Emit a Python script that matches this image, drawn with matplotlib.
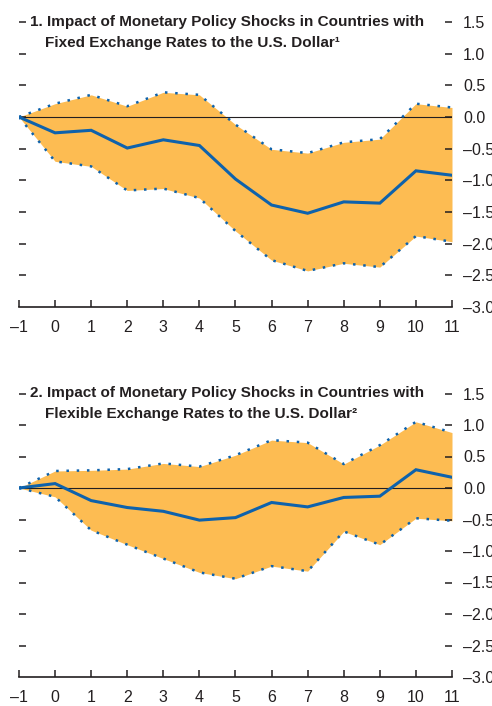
import matplotlib
matplotlib.use("Agg")
import matplotlib.pyplot as plt
import matplotlib.transforms as mtransforms
from matplotlib.ticker import FuncFormatter

plt.rcParams['font.family'] = ['Liberation Sans Narrow', 'Liberation Sans', 'DejaVu Sans']

horizon = [-1, 0, 1, 2, 3, 4, 5, 6, 7, 8, 9, 10, 11]

# Panel 1: fixed exchange rates
fixed_est = [0.0, -0.25, -0.21, -0.49, -0.36, -0.45, -0.98, -1.39, -1.52, -1.34, -1.36, -0.85, -0.92]
fixed_upper = [0.0, 0.21, 0.35, 0.17, 0.39, 0.35, -0.12, -0.51, -0.57, -0.40, -0.35, 0.21, 0.15]
fixed_lower = [0.0, -0.70, -0.78, -1.16, -1.13, -1.28, -1.80, -2.26, -2.43, -2.31, -2.37, -1.88, -1.97]

# Panel 2: flexible exchange rates
flex_est = [0.0, 0.07, -0.20, -0.31, -0.37, -0.51, -0.47, -0.23, -0.30, -0.15, -0.13, 0.29, 0.17]
flex_upper = [0.0, 0.27, 0.28, 0.30, 0.39, 0.34, 0.52, 0.76, 0.72, 0.38, 0.68, 1.05, 0.88]
flex_lower = [0.0, -0.14, -0.67, -0.90, -1.12, -1.34, -1.44, -1.24, -1.32, -0.69, -0.90, -0.48, -0.52]

titles = [
    ("1. Impact of Monetary Policy Shocks in Countries with",
     "Fixed Exchange Rates to the U.S. Dollar\u00b9"),
    ("2. Impact of Monetary Policy Shocks in Countries with",
     "Flexible Exchange Rates to the U.S. Dollar\u00b2"),
]

yticks = [-3.0, -2.5, -2.0, -1.5, -1.0, -0.5, 0.0, 0.5, 1.0, 1.5]

ORANGE = '#FDBC52'
BLUE = '#0E62AC'
INK = '#231F20'
W, H = 492, 706

fig = plt.figure(figsize=(W / 100, H / 100), dpi=100)

def fmt(v, _):
    s = f"{abs(v):.1f}"
    return ("\u2013" + s) if v < 0 else s

def xfmt(v, _):
    return ("\u2013" + str(abs(int(v)))) if v < 0 else str(int(v))

panels = [
    (fixed_est, fixed_upper, fixed_lower, 22, 307),
    (flex_est, flex_upper, flex_lower, 393.5, 677),
]

for (est, up, lo, top_px, bot_px), (t1, t2) in zip(panels, titles):
    ax = fig.add_axes([19 / W, 1 - bot_px / H, 433 / W, (bot_px - top_px) / H])
    ax.fill_between(horizon, lo, up, color=ORANGE, lw=0, zorder=1)
    ax.axhline(0, color=INK, lw=0.8, zorder=2)
    for band in (up, lo):
        ax.plot(horizon, band, color=BLUE, lw=1.8, ls=(0, (1, 3.1)), zorder=3)
    ax.plot(horizon, est, color=BLUE, lw=2.2, zorder=4, solid_joinstyle='miter')

    ax.set_xlim(-1, 11)
    ax.set_ylim(-3.0, 1.5)
    ax.set_xticks(horizon)
    ax.set_yticks(yticks)
    ax.xaxis.set_major_formatter(FuncFormatter(xfmt))
    ax.yaxis.set_major_formatter(FuncFormatter(fmt))

    for side in ('top', 'left', 'right'):
        ax.spines[side].set_visible(False)
    ax.spines['bottom'].set_color(INK)
    ax.spines['bottom'].set_linewidth(1.2)

    ax.tick_params(axis='x', direction='in', length=5, width=1.1, color=INK,
                   labelsize=11.5, labelcolor=INK, pad=9)
    ax.tick_params(axis='y', direction='in', length=5, width=1.1, color=INK,
                   left=True, right=True, labelleft=False, labelright=True,
                   labelsize=11.5, labelcolor=INK, pad=8)
    # the -3.0 tick marks sit on the x axis line
    for tk in ax.yaxis.get_major_ticks()[:1]:
        tk.tick1line.set_visible(False)
        tk.tick2line.set_visible(False)

    trans = mtransforms.blended_transform_factory(ax.transAxes, ax.transData)
    ax.text(11 / 433, 1.5, t1, transform=trans, fontsize=11, fontweight='bold',
            color=INK, va='center', ha='left')
    ax.text(26 / 433, 1.17, t2, transform=trans, fontsize=11, fontweight='bold',
            color=INK, va='center', ha='left')

fig.savefig("out.png", dpi=100)
